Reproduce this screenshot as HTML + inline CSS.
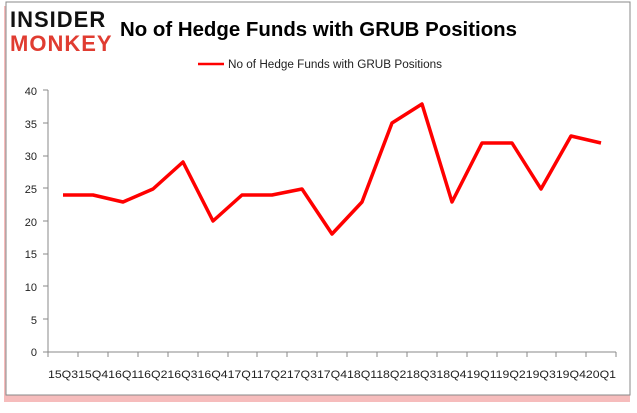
<!DOCTYPE html>
<html><head><style>body{margin:0;background:#fff}</style></head><body>
<svg width="637" height="408" xmlns="http://www.w3.org/2000/svg" font-family="Liberation Sans, sans-serif">
<rect x="4" y="6" width="626" height="396" fill="#f2a0a0" opacity="0.7"/>
<rect x="6" y="2" width="624" height="393" fill="#fff" stroke="#888" stroke-width="1"/>
<text x="10" y="27" font-size="22" font-weight="bold" fill="#111" letter-spacing="1">INSIDER</text>
<text x="10" y="51" font-size="22" font-weight="bold" fill="#e03c31" letter-spacing="1">MONKEY</text>
<text x="120" y="36" font-size="20" font-weight="bold" fill="#000" textLength="397" lengthAdjust="spacingAndGlyphs">No of Hedge Funds with GRUB Positions</text>
<line x1="198" y1="64" x2="224" y2="64" stroke="#f00" stroke-width="2.5"/>
<text x="228" y="68" font-size="11.5" fill="#222" textLength="214" lengthAdjust="spacingAndGlyphs">No of Hedge Funds with GRUB  Positions</text>
<g font-size="11" fill="#222" text-anchor="end">
<text x="37" y="95">40</text><text x="37" y="128">35</text><text x="37" y="160">30</text><text x="37" y="193">25</text><text x="37" y="226">20</text><text x="37" y="258">15</text><text x="37" y="291">10</text><text x="37" y="324">5</text><text x="37" y="356">0</text>
</g>
<g stroke="#888" stroke-width="1">
<line x1="48" y1="90" x2="48" y2="352"/><line x1="48" y1="352" x2="616" y2="352"/>
<line x1="43" y1="90" x2="48" y2="90"/><line x1="43" y1="123" x2="48" y2="123"/><line x1="43" y1="156" x2="48" y2="156"/><line x1="43" y1="188" x2="48" y2="188"/><line x1="43" y1="221" x2="48" y2="221"/><line x1="43" y1="254" x2="48" y2="254"/><line x1="43" y1="286" x2="48" y2="286"/><line x1="43" y1="319" x2="48" y2="319"/><line x1="43" y1="352" x2="48" y2="352"/>
</g>
<text x="48" y="378" font-size="11" fill="#222" textLength="568" lengthAdjust="spacingAndGlyphs">15Q315Q416Q116Q216Q316Q417Q117Q217Q317Q418Q118Q218Q318Q419Q119Q219Q319Q420Q1</text>
<polyline fill="none" stroke="#f00" stroke-width="3.5" stroke-linejoin="round" points="63,195 93,195 123,202 153,189 183,162 213,221 242,195 272,195 302,189 332,234 362,202 392,123 422,104 452,202 482,143 512,143 541,189 571,136 601,143"/>
<g stroke="#888">
<line x1="78" y1="352" x2="78" y2="357"/><line x1="108" y1="352" x2="108" y2="357"/><line x1="138" y1="352" x2="138" y2="357"/><line x1="168" y1="352" x2="168" y2="357"/><line x1="198" y1="352" x2="198" y2="357"/><line x1="228" y1="352" x2="228" y2="357"/><line x1="257" y1="352" x2="257" y2="357"/><line x1="287" y1="352" x2="287" y2="357"/><line x1="317" y1="352" x2="317" y2="357"/><line x1="347" y1="352" x2="347" y2="357"/><line x1="377" y1="352" x2="377" y2="357"/><line x1="407" y1="352" x2="407" y2="357"/><line x1="437" y1="352" x2="437" y2="357"/><line x1="467" y1="352" x2="467" y2="357"/><line x1="497" y1="352" x2="497" y2="357"/><line x1="527" y1="352" x2="527" y2="357"/><line x1="556" y1="352" x2="556" y2="357"/><line x1="586" y1="352" x2="586" y2="357"/><line x1="616" y1="352" x2="616" y2="357"/><line x1="48" y1="352" x2="48" y2="357"/>
</g>
</svg>
</body></html>
